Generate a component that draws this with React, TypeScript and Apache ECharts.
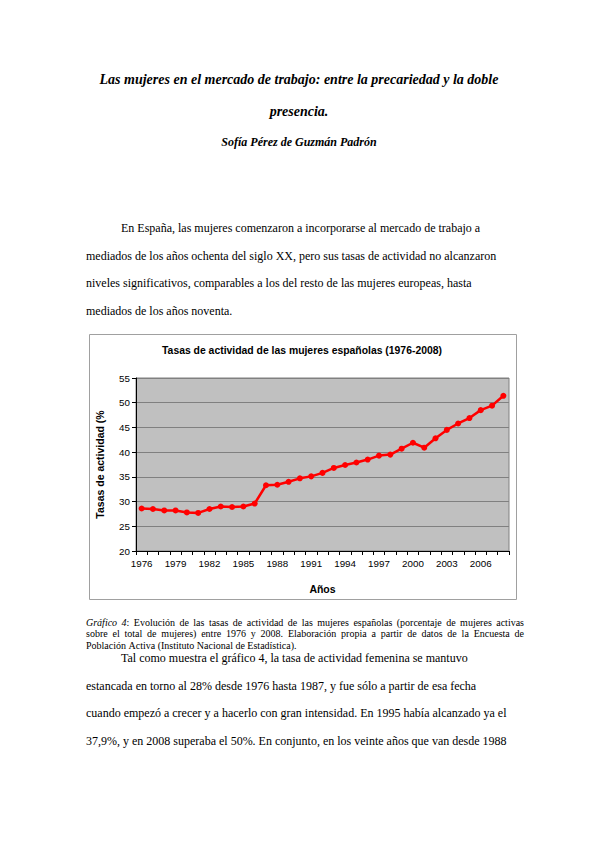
import React, { useEffect, useRef } from 'react';
import * as echarts from 'echarts';

const years = [
  '1976', '1977', '1978', '1979', '1980', '1981', '1982', '1983', '1984', '1985', '1986',
  '1987', '1988', '1989', '1990', '1991', '1992', '1993', '1994', '1995', '1996', '1997',
  '1998', '1999', '2000', '2001', '2002', '2003', '2004', '2005', '2006', '2007', '2008',
];

const tasas = [
  28.6, 28.5, 28.2, 28.2, 27.8, 27.7, 28.5, 29.0, 28.9, 29.0, 29.6,
  33.3, 33.4, 34.0, 34.7, 35.1, 35.8, 36.8, 37.4, 37.9, 38.5, 39.3,
  39.5, 40.7, 41.9, 40.9, 42.8, 44.5, 45.8, 46.9, 48.5, 49.4, 51.4,
];

const titleLines = [
  'Las mujeres en el mercado de trabajo: entre la precariedad y la doble',
  'presencia.',
];
const author = 'Sofía Pérez de Guzmán Padrón';

const paragraph1 = [
  'En España, las mujeres comenzaron a incorporarse al mercado de trabajo a',
  'mediados de los años ochenta del siglo XX, pero sus tasas de actividad no alcanzaron',
  'niveles significativos, comparables a los del resto de las mujeres europeas, hasta',
  'mediados de los años noventa.',
];

// words wrapped in {i|...} are italic
const caption = [
  '{i|Gráfico} {i|4}: Evolución de las tasas de actividad de las mujeres españolas (porcentaje de mujeres activas',
  'sobre el total de mujeres) entre 1976 y 2008. Elaboración propia a partir de datos de la Encuesta de',
  'Población Activa (Instituto Nacional de Estadística).',
];

const paragraph2 = [
  'Tal como muestra el gráfico 4, la tasa de actividad femenina se mantuvo',
  'estancada en torno al 28% desde 1976 hasta 1987, y fue sólo a partir de esa fecha',
  'cuando empezó a crecer y a hacerlo con gran intensidad. En 1995 había alcanzado ya el',
  '37,9%, y en 2008 superaba el 50%. En conjunto, en los veinte años que van desde 1988',
];

const chartTitle = 'Tasas de actividad de las mujeres españolas (1976-2008)';

const serif = '"Liberation Serif", "Times New Roman", serif';
const sans = '"Liberation Sans", Arial, sans-serif';

const bodyLine = (text: string, x: number, y: number) => ({
  type: 'text',
  x,
  y,
  style: {
    text,
    fill: '#000',
    fontFamily: serif,
    fontSize: 12,
    textAlign: 'left',
    textVerticalAlign: 'middle',
  },
});

// width of a word that may contain {i|...} italic parts
const measureWord = (ctx: CanvasRenderingContext2D, word: string, size: number) => {
  let w = 0;
  const parts = word.split(/(\{i\|[^}]*\})/).filter((p) => p);
  parts.forEach((p) => {
    const m = p.match(/^\{i\|([^}]*)\}$/);
    ctx.font = `${m ? 'italic ' : ''}${size}px ${serif}`;
    w += ctx.measureText(m ? m[1] : p).width;
  });
  return w;
};

const captionLine = (ctx: CanvasRenderingContext2D, text: string, x0: number, x1: number, y: number, justify: boolean) => {
  const size = 10;
  const words = text.split(' ');
  const widths = words.map((w) => measureWord(ctx, w, size));
  const total = widths.reduce((a, b) => a + b, 0);
  ctx.font = `${size}px ${serif}`;
  const space = justify && words.length > 1 ? (x1 - x0 - total) / (words.length - 1) : ctx.measureText(' ').width;
  let x = x0;
  return words.map((w, i) => {
    const el = {
      type: 'text',
      x,
      y,
      style: {
        text: w,
        fill: '#000',
        fontFamily: serif,
        fontSize: size,
        textAlign: 'left',
        textVerticalAlign: 'middle',
        rich: { i: { fontFamily: serif, fontSize: size, fontStyle: 'italic' } },
      },
    };
    x += widths[i] + space;
    return el;
  });
};

export default function App() {
  const chartRef = useRef<HTMLDivElement>(null);

  useEffect(() => {
    if (!chartRef.current) return;
    const chart = echarts.init(chartRef.current, undefined, { renderer: 'svg' });
    const ctx = document.createElement('canvas').getContext('2d') as CanvasRenderingContext2D;

    const graphics: any[] = [];

    // heading
    titleLines.forEach((t, i) => {
      graphics.push({
        type: 'text',
        x: 299,
        y: 79 + i * 32,
        style: {
          text: t,
          fill: '#000',
          fontFamily: serif,
          fontSize: 14,
          fontWeight: 'bold',
          fontStyle: 'italic',
          textAlign: 'center',
          textVerticalAlign: 'middle',
        },
      });
    });
    graphics.push({
      type: 'text',
      x: 299,
      y: 142,
      style: {
        text: author,
        fill: '#000',
        fontFamily: serif,
        fontSize: 12,
        fontWeight: 'bold',
        fontStyle: 'italic',
        textAlign: 'center',
        textVerticalAlign: 'middle',
      },
    });

    paragraph1.forEach((t, i) => {
      graphics.push(bodyLine(t, i === 0 ? 121 : 86, 228 + i * 27.6));
    });

    // chart frame
    graphics.push({
      type: 'rect',
      shape: { x: 89.5, y: 334.5, width: 427, height: 265 },
      style: { fill: 'none', stroke: '#a0a0a0', lineWidth: 1 },
    });
    graphics.push({
      type: 'text',
      x: 302,
      y: 350,
      style: {
        text: chartTitle,
        fill: '#000',
        fontFamily: sans,
        fontSize: 10.4,
        fontWeight: 'bold',
        textAlign: 'center',
        textVerticalAlign: 'middle',
      },
    });

    caption.forEach((t, i) => {
      graphics.push(...captionLine(ctx, t, 86, 524, 622 + i * 11.5, i < caption.length - 1));
    });

    paragraph2.forEach((t, i) => {
      graphics.push(bodyLine(t, i === 0 ? 121 : 86, 658 + i * 27.6));
    });

    chart.setOption({
      animation: false,
      backgroundColor: '#fff',
      grid: {
        left: 136,
        top: 378,
        width: 373,
        height: 173,
        show: true,
        backgroundColor: '#c0c0c0',
        borderColor: '#808080',
        borderWidth: 1,
      },
      xAxis: {
        type: 'category',
        data: years,
        boundaryGap: true,
        name: 'Años',
        nameLocation: 'middle',
        nameGap: 32,
        nameTextStyle: { fontFamily: sans, fontSize: 10.5, fontWeight: 'bold', color: '#000' },
        axisLine: { lineStyle: { color: '#000', width: 1 } },
        axisTick: { show: true, interval: 0, length: 4, lineStyle: { color: '#000' } },
        axisLabel: { interval: 2, fontFamily: sans, fontSize: 9.8, color: '#000', margin: 7 },
        splitLine: { show: false },
      },
      yAxis: {
        type: 'value',
        min: 20,
        max: 55,
        interval: 5,
        name: 'Tasas de actividad (%',
        nameLocation: 'middle',
        nameRotate: 90,
        nameGap: 31,
        nameTextStyle: { fontFamily: sans, fontSize: 10.5, fontWeight: 'bold', color: '#000' },
        axisLine: { show: true, lineStyle: { color: '#000', width: 1 } },
        axisTick: { show: true, length: 4, lineStyle: { color: '#000' } },
        axisLabel: { fontFamily: sans, fontSize: 9.8, color: '#000', margin: 6 },
        splitLine: { show: true, lineStyle: { color: '#808080', width: 1 } },
      },
      series: [
        {
          type: 'line',
          data: tasas,
          color: '#ff0000',
          symbol: 'circle',
          symbolSize: 6,
          lineStyle: { color: '#ff0000', width: 2.5 },
          itemStyle: { color: '#ff0000' },
        },
      ],
      graphic: graphics,
    });

    return () => {
      chart.dispose();
    };
  }, []);

  return (
    <div
      ref={chartRef}
      style={{ position: 'absolute', left: 0, top: 0, width: '599px', height: '848px', background: '#fff' }}
    />
  );
}
